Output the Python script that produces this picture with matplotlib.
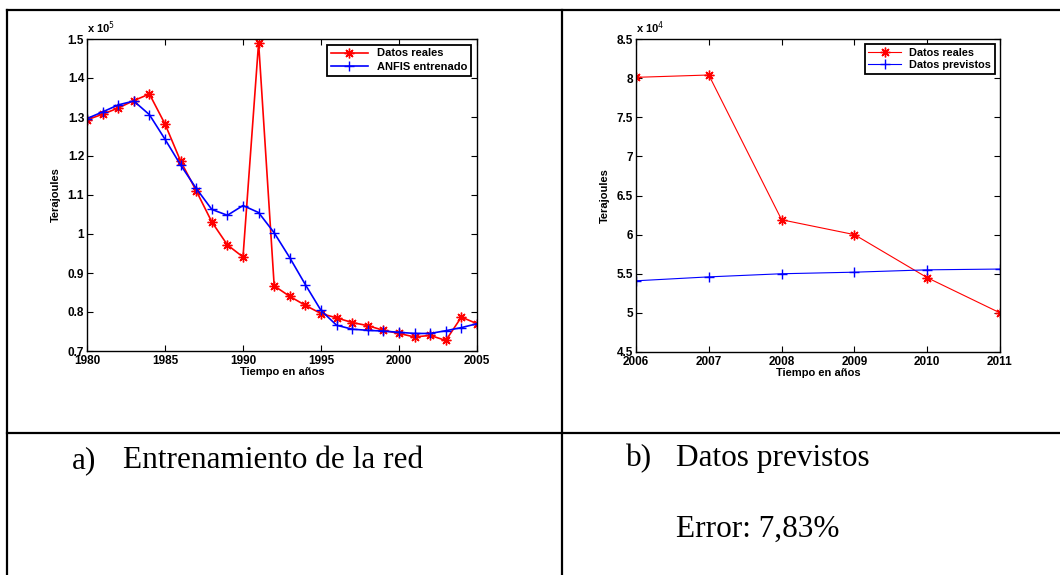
import matplotlib
matplotlib.use('Agg')
import matplotlib.pyplot as plt
from matplotlib.lines import Line2D
import numpy as np

# ---- data ----
years_train = list(range(1980, 2006))
real_train = [1.293, 1.307, 1.323, 1.342, 1.359, 1.282, 1.187, 1.111, 1.031, 0.972,
              0.941, 1.491, 0.867, 0.840, 0.817, 0.796, 0.785, 0.773, 0.765, 0.753,
              0.745, 0.736, 0.740, 0.727, 0.787, 0.770]          # x 10^5
anfis_train = [1.296, 1.313, 1.331, 1.341, 1.306, 1.243, 1.177, 1.117, 1.063, 1.048,
               1.073, 1.055, 1.003, 0.939, 0.870, 0.804, 0.766, 0.756, 0.753, 0.751,
               0.748, 0.745, 0.745, 0.752, 0.760, 0.770]         # x 10^5

years_pred = list(range(2006, 2012))
real_pred = [8.01, 8.04, 6.19, 6.00, 5.45, 5.00]                 # x 10^4
forecast_pred = [5.41, 5.46, 5.50, 5.52, 5.55, 5.56]             # x 10^4

xticks_a = [1980, 1985, 1990, 1995, 2000, 2005]
yticks_a = [0.7, 0.8, 0.9, 1.0, 1.1, 1.2, 1.3, 1.4, 1.5]
ylabels_a = ['0.7', '0.8', '0.9', '1', '1.1', '1.2', '1.3', '1.4', '1.5']
yticks_b = [4.5, 5, 5.5, 6, 6.5, 7, 7.5, 8, 8.5]
ylabels_b = ['4.5', '5', '5.5', '6', '6.5', '7', '7.5', '8', '8.5']

W, H = 1060, 575
fig = plt.figure(figsize=(W / 100, H / 100), dpi=100)
fig.patch.set_facecolor('white')

sans = 'Liberation Sans'
serif = 'Liberation Serif'
asterisk = (8, 2, 0)   # matlab-like '*' marker


def px_axes(x0, y0, x1, y1):
    # pixel box (top-left origin) -> figure fraction
    return fig.add_axes([x0 / W, 1 - y1 / H, (x1 - x0) / W, (y1 - y0) / H])


def matlab_style(ax, fs):
    ax.tick_params(direction='in', length=4, width=0.8, top=True, right=True,
                   labelsize=fs)
    ax.tick_params(axis='x', pad=3)
    ax.tick_params(axis='y', pad=2)
    for lab in ax.get_xticklabels() + ax.get_yticklabels():
        lab.set_fontfamily(sans)
        lab.set_fontweight('bold')
    for sp in ax.spines.values():
        sp.set_linewidth(1.0)


# ---- panel a ----
ax1 = px_axes(87, 39, 477, 351)
ax1.plot(years_train, real_train, color='red', marker=asterisk, ms=7, mew=1, lw=1.2,
         label='Datos reales')
ax1.plot(years_train, anfis_train, color='blue', marker='+', ms=7, mew=1, lw=1.2,
         label='ANFIS entrenado')
ax1.set_xlim(1980, 2005)
ax1.set_ylim(0.7, 1.5)
ax1.set_xticks(xticks_a)
ax1.set_yticks(yticks_a)
ax1.set_yticklabels(ylabels_a)
matlab_style(ax1, 8.5)
ax1.set_xlabel('Tiempo en años', fontfamily=sans, fontweight='bold', fontsize=8, labelpad=0)
ax1.set_ylabel('Terajoules', fontfamily=sans, fontweight='bold', fontsize=8, labelpad=5)
ax1.text(0.0, 1.01, r'x 10$^{5}$', transform=ax1.transAxes, fontfamily=sans,
         fontweight='bold', fontsize=8, va='bottom', ha='left')
leg1 = ax1.legend(loc='upper right', prop={'family': sans, 'weight': 'bold', 'size': 8},
                  fancybox=False, edgecolor='black', framealpha=1, borderpad=0.35,
                  handlelength=3.4, labelspacing=0.35, borderaxespad=0.5)
leg1.get_frame().set_linewidth(1.3)

# ---- panel b ----
ax2 = px_axes(636, 39, 1000, 352)
ax2.plot(years_pred, real_pred, color='red', marker=asterisk, ms=7, mew=1, lw=0.8,
         label='Datos reales')
ax2.plot(years_pred, forecast_pred, color='blue', marker='+', ms=7, mew=1, lw=0.8,
         label='Datos previstos')
ax2.set_xlim(2006, 2011)
ax2.set_ylim(4.5, 8.5)
ax2.set_xticks(years_pred)
ax2.set_yticks(yticks_b)
ax2.set_yticklabels(ylabels_b)
matlab_style(ax2, 8.5)
ax2.set_xlabel('Tiempo en años', fontfamily=sans, fontweight='bold', fontsize=8, labelpad=0)
ax2.set_ylabel('Terajoules', fontfamily=sans, fontweight='bold', fontsize=8, labelpad=5)
ax2.text(0.0, 1.01, r'x 10$^{4}$', transform=ax2.transAxes, fontfamily=sans,
         fontweight='bold', fontsize=8, va='bottom', ha='left')
leg2 = ax2.legend(loc='upper right', prop={'family': sans, 'weight': 'bold', 'size': 7.8},
                  fancybox=False, edgecolor='black', framealpha=1, borderpad=0.35,
                  handlelength=3.0, labelspacing=0.2, borderaxespad=0.45)
leg2.get_frame().set_linewidth(1.3)

# ---- table borders ----
def hline(y, x0, x1):
    fig.add_artist(Line2D([x0 / W, x1 / W], [1 - y / H, 1 - y / H], color='black', lw=1.6))


def vline(x, y0, y1):
    fig.add_artist(Line2D([x / W, x / W], [1 - y0 / H, 1 - y1 / H], color='black', lw=1.6))


hline(10, 7, W)
hline(433, 7, W)
vline(7, 10, H)
vline(562, 10, H)

# ---- captions ----
cap = dict(fontfamily=serif, fontsize=22.5, va='baseline', ha='left')
fig.text(72 / W, 1 - 468 / H, 'a)', **cap)
fig.text(123 / W, 1 - 468 / H, 'Entrenamiento de la red', **cap)
fig.text(626 / W, 1 - 466 / H, 'b)', **cap)
fig.text(676 / W, 1 - 466 / H, 'Datos previstos', **cap)
fig.text(676 / W, 1 - 537 / H, 'Error: 7,83%', **cap)

fig.savefig('out.png', dpi=100)
